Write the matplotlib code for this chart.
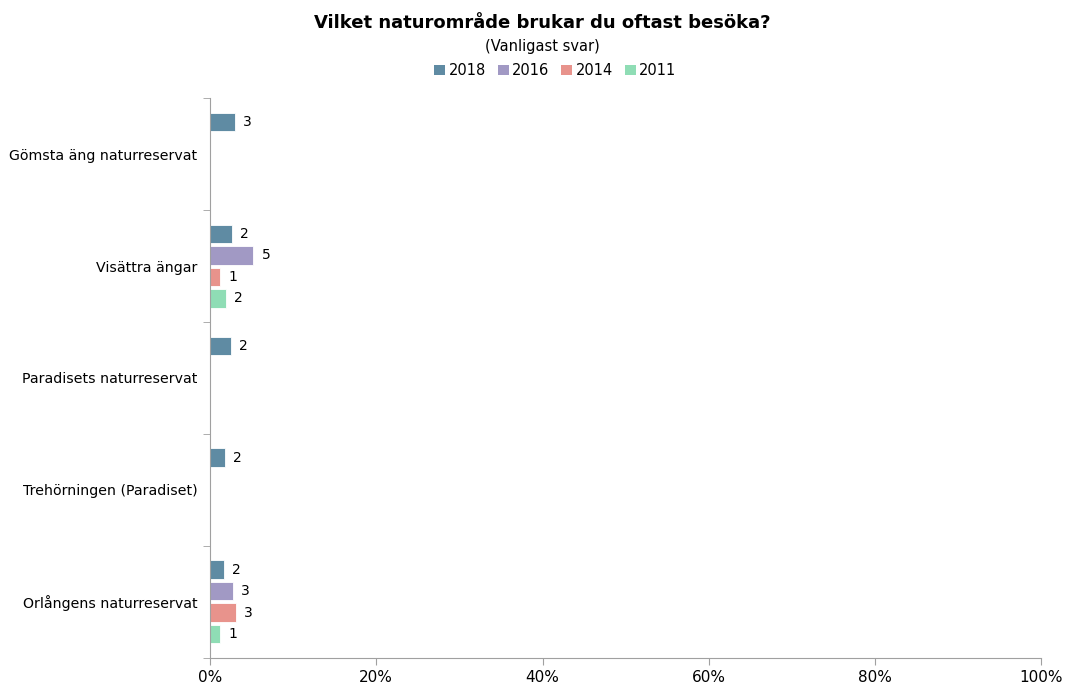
import matplotlib.pyplot as plt
from matplotlib.patches import Patch
import numpy as np

# categories, top to bottom
categories = ["Gömsta äng naturreservat", "Visättra ängar", "Paradisets naturreservat",
              "Trehörningen (Paradiset)", "Orlångens naturreservat"]
series = ["2018", "2016", "2014", "2011"]
colors = ["#5F8BA3", "#A199C4", "#E8938C", "#8FDDB5"]

# bar lengths in percent (None = no bar)
pct_2018 = [2.95, 2.6, 2.47, 1.8, 1.66]
pct_2016 = [None, 5.2, None, None, 2.75]
pct_2014 = [None, 1.26, None, None, 3.1]
pct_2011 = [None, 1.9, None, None, 1.26]

# data labels shown at bar ends
lab_2018 = ["3", "2", "2", "2", "2"]
lab_2016 = [None, "5", None, None, "3"]
lab_2014 = [None, "1", None, None, "3"]
lab_2011 = [None, "2", None, None, "1"]

values = [pct_2018, pct_2016, pct_2014, pct_2011]
labels = [lab_2018, lab_2016, lab_2014, lab_2011]

plt.rcParams['font.family'] = ['DejaVu Sans']

fig = plt.figure(figsize=(10.66, 6.91), dpi=100)
ax = fig.add_axes([0.197, 0.048, 0.78, 0.81])

y = np.arange(len(categories))
step = 0.192
height = 0.165
for i, (vals, labs, col) in enumerate(zip(values, labels, colors)):
    offs = (i - 1.5) * step
    for j, (v, lab) in enumerate(zip(vals, labs)):
        if v is None:
            continue
        ax.barh(y[j] + offs, v, height=height, color=col, edgecolor="white", linewidth=0.6)
        ax.text(v + 1.0, y[j] + offs, lab, va="center", ha="left", fontsize=10)

ax.set_xlim(0, 100)
ax.set_ylim(len(categories) - 0.5, -0.5)
ax.set_xticks(np.arange(0, 101, 20))
ax.set_xticklabels([f"{t}%" for t in range(0, 101, 20)], fontsize=11)
ax.set_yticks(y)
ax.set_yticklabels(categories, fontsize=10.2)
ax.tick_params(axis="y", length=0, pad=9)
ax.set_yticks(np.arange(-0.5, len(categories)), minor=True)
ax.tick_params(axis="y", which="minor", length=5, color="#A0A0A0")
ax.tick_params(axis="x", length=5, color="#A0A0A0", pad=4)

for s in ["top", "right"]:
    ax.spines[s].set_visible(False)
for s in ["left", "bottom"]:
    ax.spines[s].set_color("#A0A0A0")

fig.text(0.509, 0.967, "Vilket naturområde brukar du oftast besöka?", ha="center",
         va="center", fontsize=13, fontweight="bold")
fig.text(0.509, 0.933, "(Vanligast svar)", ha="center", va="center", fontsize=10.5)
handles = [Patch(facecolor=c, label=s) for s, c in zip(series, colors)]
fig.legend(handles=handles, loc="center", bbox_to_anchor=(0.521, 0.898), ncol=4,
           frameon=False, fontsize=10.5, handlelength=0.75, handleheight=0.75,
           handletextpad=0.25, columnspacing=0.8)

fig.savefig("out.png", dpi=100)
